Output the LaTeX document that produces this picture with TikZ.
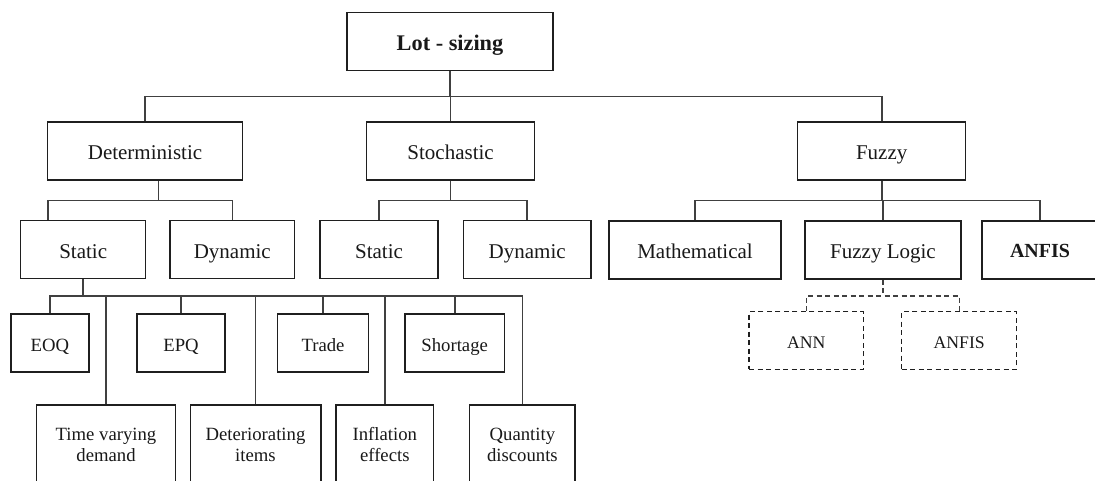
\documentclass[tikz,border=0pt]{standalone}
\usepackage{fontspec}
\setmainfont{Liberation Serif}
\begin{document}
\begin{tikzpicture}[x=1pt,y=-1pt,
  box/.style={draw=black!88, line width=1.5pt, fill=white, inner sep=0pt,
              minimum height=58pt, align=center, text=black!90},
  midtxt/.style={text height=21pt, text depth=4pt, font=\fontsize{21}{24}\selectfont},
  lowtxt/.style={text height=19pt, text depth=3pt, font=\fontsize{18.7}{21}\selectfont},
  twotxt/.style={font=\fontsize{18.7}{21}\selectfont},
  dbox/.style={box, text height=18.6pt, text depth=3pt, dash pattern=on 5pt off 3.5pt,
               line width=1.3pt, font=\fontsize{17.7}{21}\selectfont},
  link/.style={draw=black!75, line width=1.6pt},
  dlink/.style={draw=black!75, line width=1.3pt, dash pattern=on 5pt off 3.5pt}]
\useasboundingbox (0,0) rectangle (1095,481);
\clip (0,0) rectangle (1095,481);

% root
\node[box, text height=22pt, text depth=4pt, minimum width=206pt,
      font=\bfseries\fontsize{22.3}{26}\selectfont]
  (lot) at (450,41.7) {Lot - sizing};

% first level
\node[box, midtxt, minimum width=195pt] (det) at (145,151) {Deterministic};
\node[box, midtxt, minimum width=168pt] (sto) at (450.6,151) {Stochastic};
\node[box, midtxt, minimum width=168pt] (fuz) at (881.7,151) {Fuzzy};

% second level
\node[box, midtxt, minimum width=125pt] (dstat) at (83.2,249.7) {Static};
\node[box, midtxt, minimum width=124.7pt] (ddyn) at (232.3,249.7) {Dynamic};
\node[box, midtxt, minimum width=118pt] (sstat) at (379,249.7) {Static};
\node[box, midtxt, minimum width=127.7pt] (sdyn) at (527.2,249.7) {Dynamic};
\node[box, midtxt, minimum width=172pt] (math) at (695,250) {Mathematical};
\node[box, midtxt, minimum width=156pt] (flog) at (883,250) {Fuzzy Logic};
\node[box, text height=18.6pt, text depth=4pt, minimum width=116pt,
      font=\bfseries\fontsize{20}{24}\selectfont]
  (anfis) at (1040,250) {ANFIS};

% static deterministic models
\node[box, lowtxt, minimum width=78pt] (eoq) at (49.8,343) {EOQ};
\node[box, lowtxt, minimum width=88pt] (epq) at (181,343) {EPQ};
\node[box, lowtxt, minimum width=91pt] (trade) at (323,343) {Trade};
\node[box, lowtxt, minimum width=99.4pt] (short) at (454.7,343) {Shortage};
\node[box, twotxt, minimum width=138.6pt, minimum height=80pt] (tvd) at (106,445) {Time varying\\demand};
\node[box, twotxt, minimum width=130.5pt, minimum height=80pt] (deti) at (255.5,445) {Deteriorating\\items};
\node[box, twotxt, minimum width=97.6pt, minimum height=80pt] (infl) at (384.8,445) {Inflation\\effects};
\node[box, twotxt, minimum width=105.6pt, minimum height=80pt] (qty) at (522.4,445) {Quantity\\discounts};

% fuzzy logic variants
\node[dbox, minimum width=114.3pt, minimum height=57.6pt] (ann) at (806.2,340.5) {ANN};
\node[dbox, minimum width=115pt, minimum height=57.6pt] (anfisb) at (959.2,340.5) {ANFIS};

% bus levels
\coordinate (bus0) at (0,96.7);
\coordinate (bus1) at (0,200.5);
\coordinate (bus2) at (0,295.7);
\coordinate (bus3) at (0,296);

% root to first level
\draw[link] (lot.south) -- (lot.south |- bus0);
\draw[link] (det.north) -- (det.north |- bus0) -- (fuz.north |- bus0) -- (fuz.north);
\draw[link] (sto.north) -- (sto.north |- bus0);

% deterministic branch
\coordinate (detout) at ([xshift=13.4pt]det.south);
\coordinate (dstatin) at ([xshift=-35pt]dstat.north);
\draw[link] (detout) -- (detout |- bus1);
\draw[link] (dstatin) -- (dstatin |- bus1) -- (ddyn.north |- bus1) -- (ddyn.north);

% stochastic branch
\draw[link] (sto.south) -- (sto.south |- bus1);
\draw[link] (sstat.north) -- (sstat.north |- bus1) -- (sdyn.north |- bus1) -- (sdyn.north);

% fuzzy branch
\draw[link] (fuz.south) -- (fuz.south |- bus1);
\draw[link] (math.north) -- (math.north |- bus1) -- (anfis.north |- bus1) -- (anfis.north);
\draw[link] (flog.north) -- (flog.north |- bus1);

% static deterministic children
\draw[link] (dstat.south) -- (dstat.south |- bus2);
\draw[link] (eoq.north) -- (eoq.north |- bus2) -- (qty.north |- bus2) -- (qty.north);
\foreach \n in {tvd,epq,deti,trade,infl,short}
  \draw[link] (\n.north) -- (\n.north |- bus2);

% dashed fuzzy logic children
\draw[dlink] (flog.south) -- (flog.south |- bus3);
\draw[dlink] (ann.north) -- (ann.north |- bus3) -- (anfisb.north |- bus3) -- (anfisb.north);
\end{tikzpicture}
\end{document}
